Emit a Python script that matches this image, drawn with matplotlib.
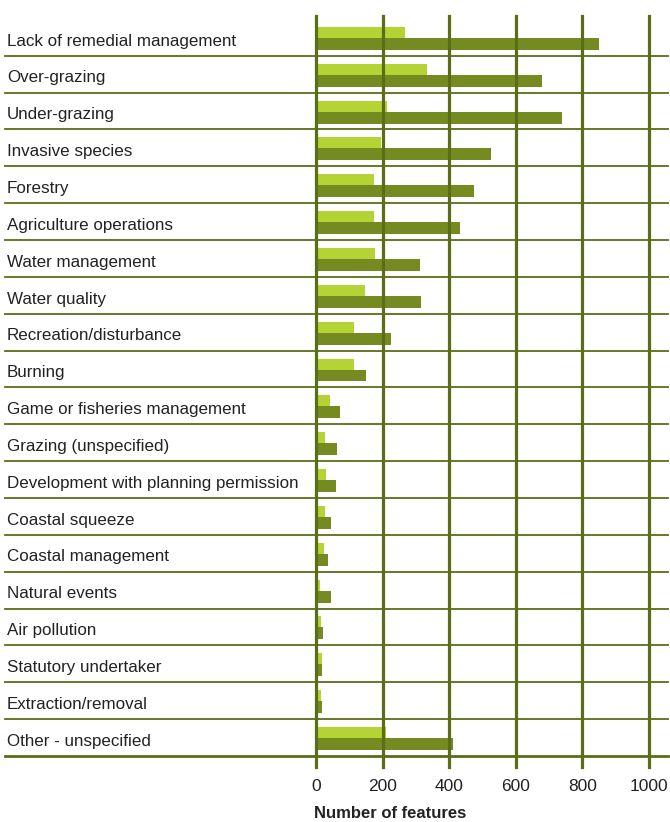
import numpy as np
import matplotlib as mpl
import matplotlib.pyplot as plt

# ── Data ──────────────────────────────────────────────────────────────────
categories = [
    "Lack of remedial management", "Over-grazing", "Under-grazing",
    "Invasive species", "Forestry", "Agriculture operations",
    "Water management", "Water quality", "Recreation/disturbance",
    "Burning", "Game or fisheries management", "Grazing (unspecified)",
    "Development with planning permission", "Coastal squeeze",
    "Coastal management", "Natural events", "Air pollution",
    "Statutory undertaker", "Extraction/removal", "Other - unspecified",
]
light_vals = [268, 333, 214, 195, 174, 174, 177, 147, 114, 114,
              42, 27, 30, 27, 24, 12, 15, 18, 15, 210]
dark_vals = [849, 680, 738, 526, 474, 432, 312, 315, 225, 150,
             72, 63, 60, 45, 36, 45, 21, 18, 18, 411]
xticks = [0, 200, 400, 600, 800, 1000]

LIGHT = "#b4d334"
DARK = "#758b22"
GRID = "#5b6d16"

mpl.rcParams.update({
    "font.family": ["Liberation Sans", "DejaVu Sans"],
    "savefig.facecolor": "white",
})

W, H = 670, 822
fig = plt.figure(figsize=(W / 100, H / 100), dpi=100)
fig.patch.set_facecolor("white")

# axes: x 316..649 px, y 16..767 px
ax = fig.add_axes([316 / W, 1 - 767 / H, (649 - 316) / W, (767 - 16) / H])
ax.set_xlim(0, 1000)
ax.set_ylim(19.8, -0.58)
for s in ax.spines.values():
    s.set_visible(False)

y = np.arange(len(categories))
ax.barh(y - 0.135, light_vals, height=0.30, color=LIGHT, zorder=2)
ax.barh(y + 0.176, dark_vals, height=0.324, color=DARK, zorder=2)

# vertical grid lines
for xv in xticks:
    ax.axvline(xv, color=GRID, lw=2.3, zorder=3, clip_on=False)

# row separators, running across the label area
x_lo = (5 - 316) / (649 - 316)
x_hi = (668 - 316) / (649 - 316)
for i in range(len(categories)):
    last = i == len(categories) - 1
    ax.axhline(i + 0.5, xmin=x_lo, xmax=x_hi, color=GRID,
               lw=2.0 if last else 1.3, zorder=3, clip_on=False)

# category labels
lab_tr = mpl.transforms.blended_transform_factory(fig.transFigure, ax.transData)
for i, lab in enumerate(categories):
    ax.text(7 / W, i + 0.1, lab, transform=lab_tr, fontsize=12.25,
            color="#222222", ha="left", va="center")

ax.set_yticks([])
ax.set_xticks(xticks)
ax.set_xticklabels([str(t) for t in xticks], fontsize=12.5, color="#222222")
ax.tick_params(axis="x", length=0, pad=8.5)

fig.text(390 / W, 1 - 813 / H, "Number of features", fontsize=12,
         fontweight="bold", ha="center", va="center", color="#222222")

fig.savefig("out.png", dpi=100, facecolor="white")
plt.close(fig)
